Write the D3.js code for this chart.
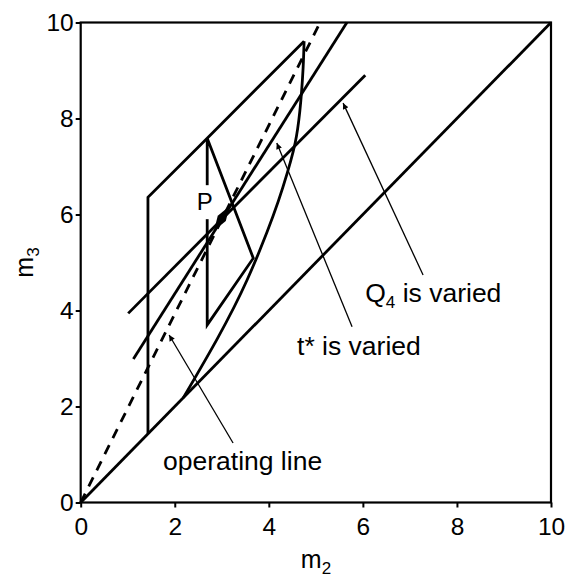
<!DOCTYPE html>
<html>
<head>
<meta charset="utf-8">
<style>
    body { margin: 0; background: white; }
    svg { display: block; font-family: 'Liberation Sans', Arial, sans-serif; }
    .tick-label { font-size: 24px; }
    .note { font-size: 26.5px; }
</style>
</head>
<body>
<svg width="568" height="579"></svg>

<script src="https://d3js.org/d3.v7.min.js"></script>
<script>
    // ticks
    const xTicks = [0, 2, 4, 6, 8, 10];
    const yTicks = [0, 2, 4, 6, 8, 10];

    // lines (m2, m3)
    const diagonal = [[0, 0], [10, 10]];
    const operatingLine = [[0, 0], [5.09, 10]];
    const regionEdge = [[1.43, 1.43], [1.43, 6.36], [2.69, 7.59], [4.75, 9.61]];
    const regionCurve = [[2.18, 2.18], [3.54, 4.64], [3.81, 5.26], [4.30, 6.57], [4.56, 7.49], [4.73, 9.07], [4.75, 9.61]];
    const triangle = [[2.69, 7.59], [2.69, 3.70], [3.67, 5.09], [2.69, 7.59]];
    const q4Line = [[1.01, 3.94], [6.05, 8.9]];
    const tLine = [[1.12, 2.99], [5.66, 10]];
    const pointP = [3.0, 5.92];

    // annotations
    const arrowStarts = [[7.28, 4.74], [5.77, 3.66], [3.24, 1.24]];
    const arrowTips = [[5.58, 8.32], [4.17, 7.49], [1.88, 3.49]];
    const labelMain = ["Q", "t* is varied", "operating line"];
    const labelSub = ["4", "", ""];
    const labelRest = [" is varied", "", ""];
    const labelPos = [[6.05, 4.18], [4.6, 3.07], [1.75, 0.68]];

    let svg = d3.select("svg");

    let x = d3.scaleLinear().domain([0, 10]).range([80.7, 551]);
    let y = d3.scaleLinear().domain([0, 10]).range([502.5, 22.5]);

    let line = d3.line().x(d => x(d[0])).y(d => y(d[1]));

    // arrow head
    svg.append("defs").append("marker")
        .attr("id", "head")
        .attr("viewBox", "0 0 10 10")
        .attr("refX", 10).attr("refY", 5)
        .attr("markerWidth", 11).attr("markerHeight", 6)
        .attr("markerUnits", "userSpaceOnUse")
        .attr("orient", "auto")
        .append("path")
        .attr("d", "M0,0L10,5L0,10Z")
        .attr("fill", "black");

    // frame
    svg.append("rect")
        .attr("x", x(0)).attr("y", y(10))
        .attr("width", x(10) - x(0)).attr("height", y(0) - y(10))
        .attr("fill", "none").attr("stroke", "black").attr("stroke-width", 2.2);

    // axes
    let xAxis = svg.append("g")
        .attr("transform", `translate(0,${y(0)})`)
        .call(d3.axisBottom(x).tickValues(xTicks).tickSize(5).tickPadding(10).tickSizeOuter(0));
    let yAxis = svg.append("g")
        .attr("transform", `translate(${x(0)},0)`)
        .call(d3.axisLeft(y).tickValues(yTicks).tickSize(5).tickPadding(2).tickSizeOuter(0));

    [xAxis, yAxis].forEach(a => {
        a.select(".domain").remove();
        a.selectAll("line").attr("stroke", "black").attr("stroke-width", 2);
        a.selectAll("text")
            .attr("class", "tick-label")
            .attr("fill", "black")
            .style("font-family", "'Liberation Sans', Arial, sans-serif")
            .style("font-size", "24.5px");
    });
    xAxis.selectAll("text").attr("dy", "0.72em");

    // plotted lines
    let solid = [diagonal, regionEdge, triangle, q4Line, tLine];
    svg.selectAll(".solid")
        .data(solid)
        .join("path")
        .attr("class", "solid")
        .attr("d", line)
        .attr("fill", "none")
        .attr("stroke", "black")
        .attr("stroke-width", 2.8)
        .attr("stroke-linejoin", "miter");

    let curved = d3.line().x(d => x(d[0])).y(d => y(d[1])).curve(d3.curveMonotoneY);
    svg.append("path")
        .attr("d", curved(regionCurve))
        .attr("fill", "none")
        .attr("stroke", "black")
        .attr("stroke-width", 2.8);

    svg.append("path")
        .attr("d", line(operatingLine))
        .attr("fill", "none")
        .attr("stroke", "black")
        .attr("stroke-width", 2.8)
        .attr("stroke-dasharray", "10,8");

    // P label, white box cuts the vertical line
    let pText = svg.append("text")
        .attr("x", x(2.47)).attr("y", y(6.09))
        .attr("class", "note")
        .style("font-size", "24px")
        .text("P");
    let bb = pText.node().getBBox();
    svg.insert("rect", () => pText.node())
        .attr("x", bb.x - 2).attr("y", bb.y - 3)
        .attr("width", bb.width + 2).attr("height", bb.height + 7)
        .attr("fill", "white");

    // point P
    let ang = Math.atan2(y(tLine[1][1]) - y(tLine[0][1]), x(tLine[1][0]) - x(tLine[0][0])) * 180 / Math.PI;
    svg.append("path")
        .attr("d", d3.symbol(d3.symbolDiamond, 110)())
        .attr("transform", `translate(${x(pointP[0])},${y(pointP[1])}) rotate(${ang + 90}) scale(0.85,1.5)`)
        .attr("fill", "black");

    // arrows
    svg.selectAll(".arrow")
        .data(arrowStarts)
        .join("line")
        .attr("class", "arrow")
        .attr("x1", d => x(d[0])).attr("y1", d => y(d[1]))
        .attr("x2", (d, i) => x(arrowTips[i][0])).attr("y2", (d, i) => y(arrowTips[i][1]))
        .attr("stroke", "black")
        .attr("stroke-width", 1.3)
        .attr("marker-end", "url(#head)");

    // labels
    labelMain.forEach((t, i) => {
        let txt = svg.append("text")
            .attr("class", "note")
            .attr("x", x(labelPos[i][0])).attr("y", y(labelPos[i][1]))
            .text(t);
        if (labelSub[i]) {
            txt.append("tspan").attr("dy", 6).style("font-size", "17px").text(labelSub[i]);
            txt.append("tspan").attr("dy", -6).text(labelRest[i]);
        }
    });

    // axis titles
    let xt = svg.append("text")
        .attr("class", "note")
        .attr("x", 316).attr("y", 568)
        .attr("text-anchor", "middle")
        .style("font-size", "25px")
        .text("m");
    xt.append("tspan").attr("dy", 6).style("font-size", "17px").text("2");

    let yt = svg.append("text")
        .attr("class", "note")
        .attr("transform", `translate(33,${(y(0) + y(10)) / 2}) rotate(-90)`)
        .attr("text-anchor", "middle")
        .style("font-size", "25px")
        .text("m");
    yt.append("tspan").attr("dy", 6).style("font-size", "17px").text("3");
</script>
</body>
</html>
